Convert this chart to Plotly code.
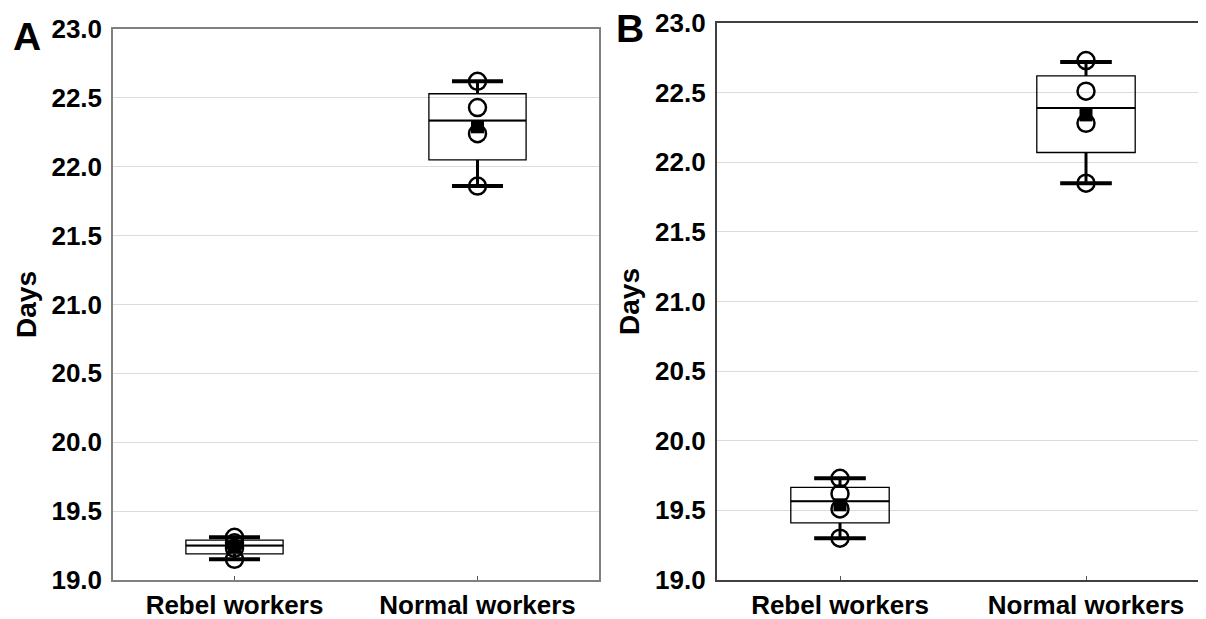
import plotly.graph_objects as go

categories = ["Rebel workers", "Normal workers"]
y_ticks = [19.0, 19.5, 20.0, 20.5, 21.0, 21.5, 22.0, 22.5, 23.0]

# Panel A
a_q1 = [19.19, 22.05]
a_median = [19.25, 22.335]
a_q3 = [19.29, 22.53]
a_lower = [19.15, 21.86]
a_upper = [19.31, 22.62]
a_points_rebel = [19.31, 19.27, 19.23, 19.15]
a_points_normal = [22.62, 22.43, 22.24, 21.86]
a_mean = [19.24, 22.29]

# Panel B
b_q1 = [19.41, 22.07]
b_median = [19.565, 22.39]
b_q3 = [19.665, 22.62]
b_lower = [19.30, 21.85]
b_upper = [19.73, 22.72]
b_points_rebel = [19.73, 19.62, 19.51, 19.30]
b_points_normal = [22.73, 22.51, 22.28, 21.85]
b_mean = [19.54, 22.34]

FONT = "Liberation Sans"
BOX_W = 0.4
CAP_HALF = 0.105

fig = go.Figure()


def add_panel(xa, ya, q1, med, q3, lo, hi, pts_list, mean):
    # whiskers
    wx, wy = [], []
    cx, cy = [], []
    for i in range(len(categories)):
        wx += [i, i, None, i, i, None]
        wy += [q3[i], hi[i], None, q1[i], lo[i], None]
        cx += [i - CAP_HALF, i + CAP_HALF, None, i - CAP_HALF, i + CAP_HALF, None]
        cy += [hi[i], hi[i], None, lo[i], lo[i], None]
    fig.add_trace(go.Scatter(x=wx, y=wy, mode="lines", xaxis=xa, yaxis=ya,
                             line=dict(color="black", width=3), showlegend=False,
                             hoverinfo="skip"))
    fig.add_trace(go.Scatter(x=cx, y=cy, mode="lines", xaxis=xa, yaxis=ya,
                             line=dict(color="black", width=4), showlegend=False,
                             hoverinfo="skip"))
    # boxes
    fig.add_trace(go.Box(x=list(range(len(categories))), q1=q1, median=med, q3=q3,
                         lowerfence=q1, upperfence=q3, width=BOX_W, whiskerwidth=0,
                         fillcolor="rgba(255,255,255,0)",
                         line=dict(color="black", width=1.3),
                         boxpoints=False, xaxis=xa, yaxis=ya, showlegend=False))
    # median lines (thicker)
    mx, my = [], []
    for i in range(len(categories)):
        mx += [i - BOX_W / 2, i + BOX_W / 2, None]
        my += [med[i], med[i], None]
    fig.add_trace(go.Scatter(x=mx, y=my, mode="lines", xaxis=xa, yaxis=ya,
                             line=dict(color="black", width=2), showlegend=False,
                             hoverinfo="skip"))
    # individual points
    for i, pts in enumerate(pts_list):
        fig.add_trace(go.Scatter(x=[i] * len(pts), y=pts, mode="markers",
                                 xaxis=xa, yaxis=ya, showlegend=False,
                                 marker=dict(symbol="circle-open", size=17, color="black",
                                             line=dict(color="black", width=2.5))))
    # means
    fig.add_trace(go.Scatter(x=list(range(len(categories))), y=mean, mode="markers",
                             xaxis=xa, yaxis=ya, showlegend=False,
                             marker=dict(symbol="square", size=13, color="black")))


add_panel("x", "y", a_q1, a_median, a_q3, a_lower, a_upper,
          [a_points_rebel, a_points_normal], a_mean)
add_panel("x2", "y2", b_q1, b_median, b_q3, b_lower, b_upper,
          [b_points_rebel, b_points_normal], b_mean)

tickfont = dict(family=FONT, size=26, color="black", weight="bold")
ytickfont = dict(family=FONT, size=26, color="black", weight="bold")
titlefont = dict(family=FONT, size=28, color="black", weight="bold")

OFF = 8  # page body margin
W, H = 1206 - OFF, 619 - OFF
# positions in page pixels
a_left, a_right, a_top, a_bottom = 113 - OFF, 599 - OFF, 29 - OFF, 580 - OFF
b_left, b_top, b_bottom = 717 - OFF, 23 - OFF, 580 - OFF

common_x = dict(tickmode="array", tickvals=[0, 1], ticktext=categories,
                tickfont=tickfont, ticks="inside", ticklen=4, tickwidth=1,
                showgrid=False, zeroline=False, showline=True, fixedrange=True,
                automargin=False, ticklabelstandoff=1)
common_y = dict(range=[19, 23], tickmode="array", tickvals=y_ticks,
                ticktext=[f"{v:.1f}" for v in y_ticks], tickfont=ytickfont,
                showgrid=True, gridcolor="#dcdcdc", gridwidth=1, zeroline=False,
                showline=True, ticks="", ticklabelstandoff=4, automargin=False,
                fixedrange=True,
                title=dict(text="Days", font=titlefont, standoff=7))

a_unit = (a_right - a_left) / 2.0
b_unit = a_unit * 246 / 243
b_range_end = -0.5 + (W - b_left) / b_unit

fig.update_layout(
    width=W, height=H,
    margin=dict(l=0, r=0, t=0, b=0, autoexpand=False),
    paper_bgcolor="white", plot_bgcolor="white",
    xaxis=dict(common_x, range=[-0.5, 1.5], domain=[a_left / W, a_right / W],
               anchor="y", linecolor="#808080", linewidth=1.5, mirror=True,
               tickcolor="#555"),
    yaxis=dict(common_y, domain=[(H - a_bottom) / H, (H - a_top) / H], anchor="x",
               linecolor="#808080", linewidth=1.5, mirror=True),
    xaxis2=dict(common_x, range=[-0.5, b_range_end], domain=[b_left / W, 1.0],
                anchor="y2", linecolor="#404040", linewidth=2.2, mirror=True,
                tickcolor="#555"),
    yaxis2=dict(common_y, domain=[(H - b_bottom) / H, (H - b_top) / H], anchor="x2",
                linecolor="#404040", linewidth=2.2, mirror=False),
    annotations=[
        dict(text="A", x=(27 - OFF) / W, y=1 - (36 - OFF) / H, xref="paper", yref="paper",
             xanchor="center", yanchor="middle", showarrow=False,
             font=dict(family=FONT, size=39, color="black", weight="bold")),
        dict(text="B", x=(630 - OFF) / W, y=1 - (28 - OFF) / H, xref="paper", yref="paper",
             xanchor="center", yanchor="middle", showarrow=False,
             font=dict(family=FONT, size=39, color="black", weight="bold")),
    ],
)

fig.write_html("out.html")
